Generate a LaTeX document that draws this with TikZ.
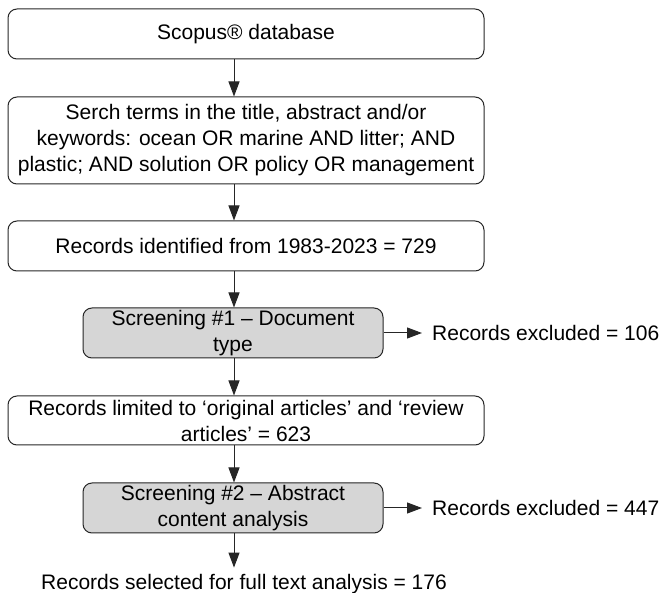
\documentclass[tikz,border=0pt]{standalone}
\usepackage{fontspec}
\setmainfont{Liberation Sans}
\usetikzlibrary{arrows.meta}
\begin{document}
\begin{tikzpicture}[x=1pt,y=-1pt,
  txt/.style={font=\fontsize{21}{26}\selectfont},
  box/.style={txt, draw=black!85, line width=1pt, rounded corners=9pt,
    align=center, inner sep=0pt, text=black},
  widebox/.style={box, minimum width=476pt},
  screenbox/.style={box, fill=black!16, minimum width=300pt, minimum height=50pt},
  lbl/.style={txt, inner sep=0pt, anchor=west},
  arr/.style={draw=black!85, line width=1pt, -{Triangle[length=15pt,width=11pt]}}]
\useasboundingbox (0,0) rectangle (662,593);
\coordinate (ax) at (234,0);

% main column
\node[widebox, minimum height=50pt] (db) at (246,34) {Scopus® database};
\node[widebox, minimum height=87pt] (srch) at (246,140.5)
  {Serch terms in the title, abstract and/or\\
   keywords: ocean OR marine AND litter; AND\\
   plastic; AND solution OR policy OR management};
\node[widebox, minimum height=50pt] (rec) at (246,246) {Records identified from 1983-2023 = 729};
\node[screenbox] (scr1) at (233,333) {Screening \#1 – Document\\type};
\node[widebox, minimum height=49pt] (lim) at (246,420.5)
  {Records limited to ‘original articles’ and ‘review\\articles’ = 623};
\node[screenbox] (scr2) at (233,508) {Screening \#2 – Abstract\\content analysis};
\node[txt, inner sep=0pt, anchor=base] (fin) at (244,590) {Records selected for full text analysis = 176};

% exclusion labels
\node[lbl] (ex1) at (432,333) {Records excluded = 106};
\node[lbl] (ex2) at (432,508) {Records excluded = 447};

% connectors
\draw[arr] (db.south -| ax) -- (srch.north -| ax);
\draw[arr] (srch.south -| ax) -- (rec.north -| ax);
\draw[arr] (rec.south -| ax) -- (scr1.north -| ax);
\draw[arr] (scr1.south -| ax) -- (lim.north -| ax);
\draw[arr] (lim.south -| ax) -- (scr2.north -| ax);
\draw[arr] (scr2.south -| ax) -- ([yshift=7pt]fin.north -| ax);
\draw[arr] (scr1.east) -- ([xshift=-10pt]ex1.west);
\draw[arr] (scr2.east) -- ([xshift=-10pt]ex2.west);
\end{tikzpicture}
\end{document}
